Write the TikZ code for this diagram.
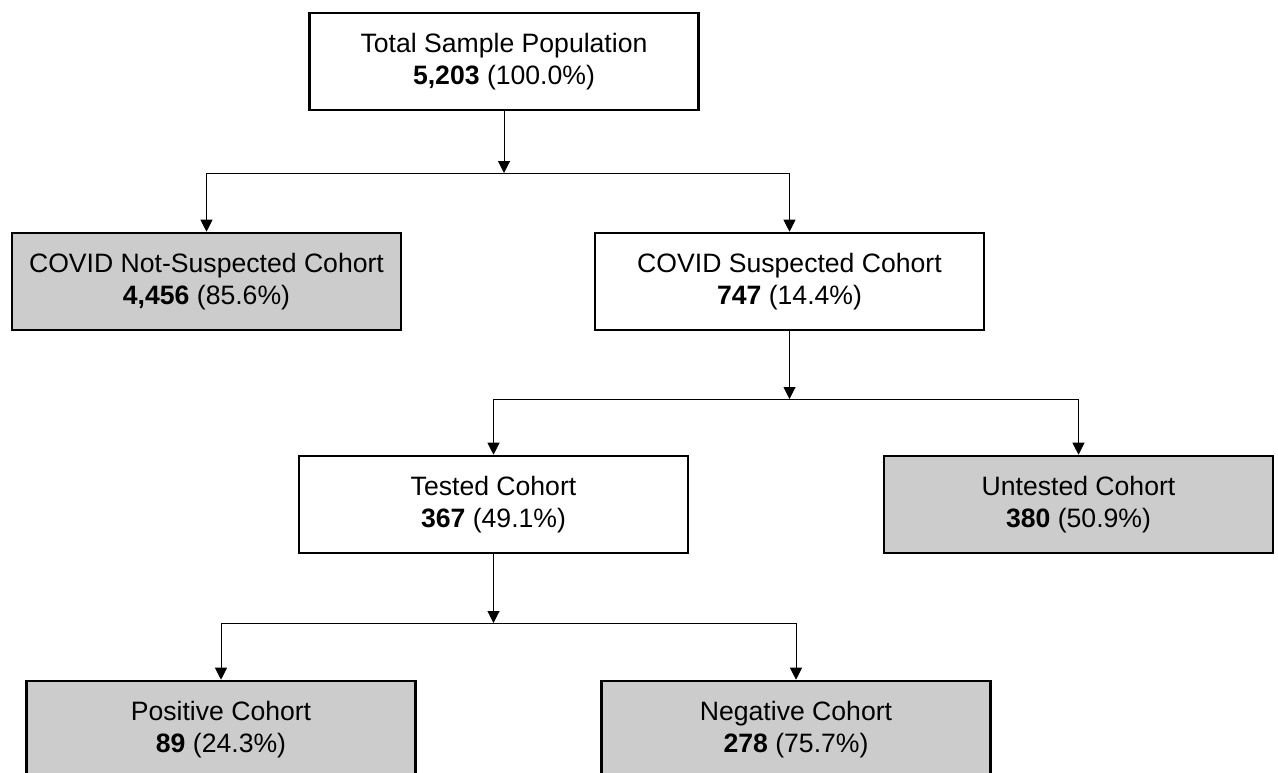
\documentclass[tikz,border=0pt]{standalone}
\usepackage{fontspec}
\setmainfont{Liberation Sans}
\usetikzlibrary{arrows.meta}

\tikzset{
  cohort/.style={draw, line width=1.3pt, minimum width=194.5pt, minimum height=48.5pt,
                 align=center, inner sep=0pt, font=\fontsize{13.3}{16}\selectfont},
  excluded/.style={cohort, fill=gray!40},
  flow/.style={line width=0.5pt, -{Triangle[width=6pt,length=6pt]}}
}

\begin{document}
\begin{tikzpicture}[x=0.5pt,y=-0.5pt]
          \clip (0,0) rectangle (1278,772);
          \fill[white] (0,0) rectangle (1278,772);

          \node[cohort]   (total)    at (504,61.5)   {Total Sample Population\\\textbf{5,203} (100.0\%)};
          \node[excluded] (notsusp)  at (206.5,281.5) {COVID Not-Suspected Cohort\\\textbf{4,456} (85.6\%)};
          \node[cohort]   (susp)     at (789.5,281.5) {COVID Suspected Cohort\\\textbf{747} (14.4\%)};
          \node[cohort]   (tested)   at (493.5,504.5) {Tested Cohort\\\textbf{367} (49.1\%)};
          \node[excluded] (untested) at (1078.5,504.5) {Untested Cohort\\\textbf{380} (50.9\%)};
          \node[excluded] (positive) at (221,729.5)   {Positive Cohort\\\textbf{89} (24.3\%)};
          \node[excluded] (negative) at (796,729.5)   {Negative Cohort\\\textbf{278} (75.7\%)};

          \coordinate (split1) at (504,173);
          \coordinate (split2) at (789.5,399);
          \coordinate (split3) at (493.5,623);

          \draw[flow] (total.south) -- (split1);
          \draw[flow] (split1) -| (notsusp.north);
          \draw[flow] (split1) -| (susp.north);

          \draw[flow] (susp.south) -- (split2);
          \draw[flow] (split2) -| (tested.north);
          \draw[flow] (split2) -| (untested.north);

          \draw[flow] (tested.south) -- (split3);
          \draw[flow] (split3) -| (positive.north);
          \draw[flow] (split3) -| (negative.north);
        \end{tikzpicture}
\end{document}
